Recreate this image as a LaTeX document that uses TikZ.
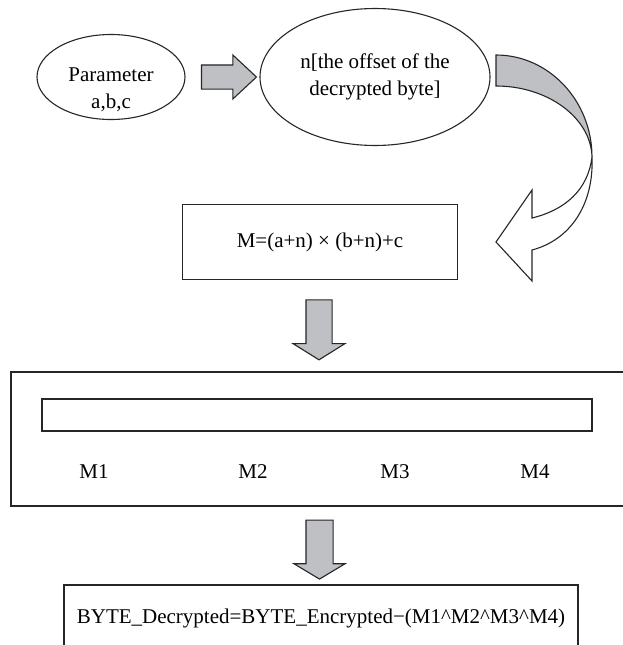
\documentclass[tikz,border=0pt]{standalone}
\usepackage{fontspec}
\setmainfont{Liberation Serif}
\usetikzlibrary{shapes.geometric,shapes.arrows,calc}

\begin{document}
\begin{tikzpicture}[x=1pt, y=-1pt,
  outline/.style={draw=black!85, line width=1.1pt},
  oval/.style={outline, ellipse, inner sep=0pt},
  box/.style={outline, rectangle, inner sep=0pt},
  txt/.style={font=\fontsize{21}{27}\selectfont, align=center, inner sep=0pt},
  blockarrow/.style={outline, fill=arrowgray, single arrow, single arrow head indent=0pt}]

% ── Helpers ──
\definecolor{arrowgray}{RGB}{190,192,196}
\useasboundingbox (0,0) rectangle (623,645);

% ── Top row: parameters and offset ──
\node[oval, minimum width=148, minimum height=85] (param) at (111,77) {};
\node[txt] (paramtext) at (111,90) {Parameter\\a,b,c};
\node[oval, txt, minimum width=230, minimum height=137] (offset) at (375,77) {n[the offset of the\\decrypted byte]};
\node[blockarrow, inner sep=11.5, minimum height=55, single arrow head extend=10, single arrow tip angle=86] (arr1) at ($(param.east)!0.5!(offset.west)$) {};

% ── Curved arrow back to the formula ──
\draw[outline, fill=arrowgray] (496,55) .. controls (549,55) and (592,101) .. (592,157)
  .. controls (591,118) and (548,86) .. (496,86) -- cycle;
\draw[outline, fill=white] (592,157) .. controls (588,190) and (565,210) .. (532,218)
  -- (532,190) -- (496,242) -- (532,281) -- (532,250)
  .. controls (570,240) and (594,205) .. (592,157) -- cycle;

% ── Formula ──
\node[box, txt, minimum width=275, minimum height=75] (formula) at (320,242) {M=(a+n) × (b+n)+c};

% ── Field M1..M4 ──
\node[box, minimum width=614, minimum height=134] (field) at (318,439) {};
\node[box, minimum width=550, minimum height=32] (bar) at (317,415) {};
\foreach \i/\xpos in {1/94, 2/253, 3/395, 4/535} {
  \node[txt] (m\i) at (\xpos,472) {M\i};
}
\node[blockarrow, shape border rotate=270, inner sep=12.5, minimum height=60, single arrow head extend=13, single arrow tip angle=116] (arr2) at ($(formula.south)!0.5!(field.north)$) {};

% ── Result ──
\node[box, txt, minimum width=514, minimum height=66] (result) at (321,618) {BYTE\_Decrypted=BYTE\_Encrypted−(M1\textasciicircum M2\textasciicircum M3\textasciicircum M4)};
\node[blockarrow, shape border rotate=270, inner sep=13, minimum height=59, single arrow head extend=12, single arrow tip angle=118] (arr3) at ($(field.south)!0.5!(result.north)$) {};

\end{tikzpicture}
\end{document}
